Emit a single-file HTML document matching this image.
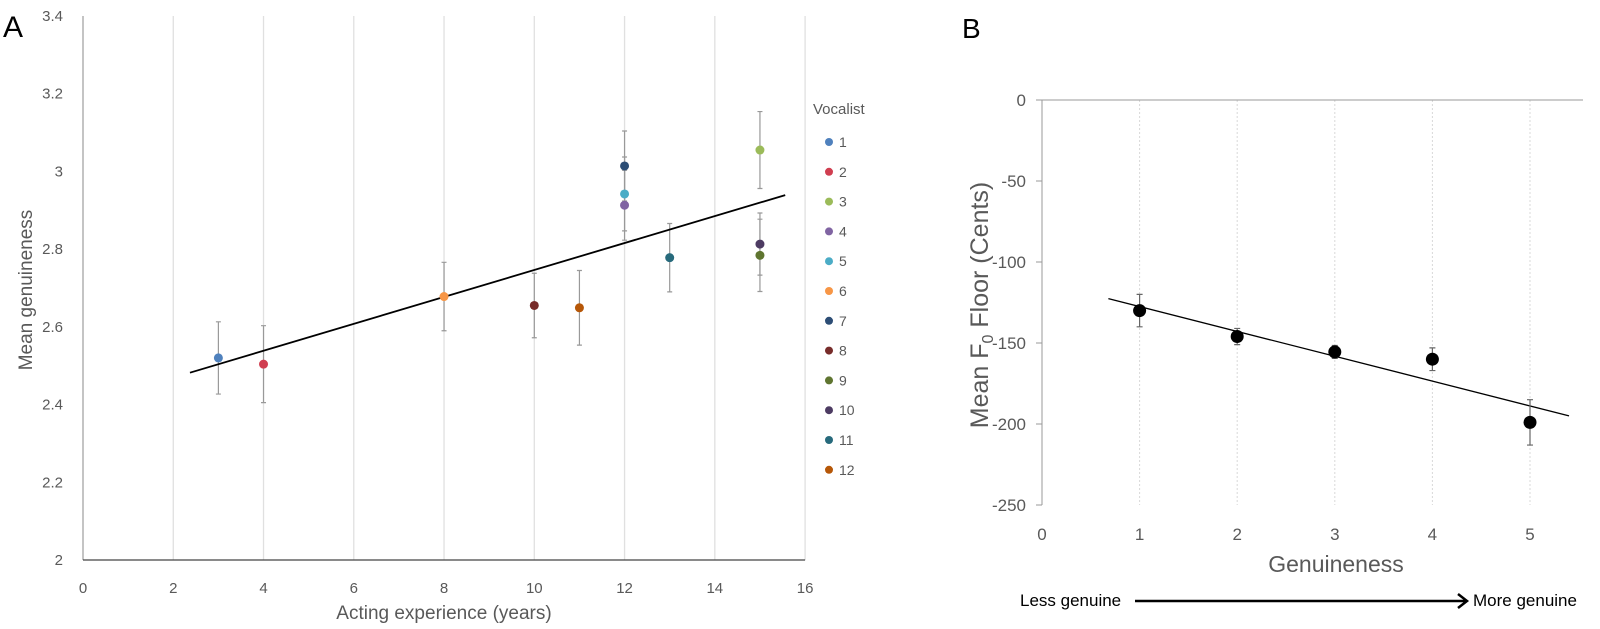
<!DOCTYPE html>
<html><head><meta charset="utf-8"><style>
body{margin:0;background:#fff;}
svg{display:block;font-family:"Liberation Sans",sans-serif;}
</style></head><body>
<svg id="fig" width="1600" height="629" viewBox="0 0 1600 629">
<g id="chartA"></g>
<g id="chartB"></g>
</svg>
<script>
// Panel A data
const vocalists = ["1","2","3","4","5","6","7","8","9","10","11","12"];
const experience = [3,4,15,12,12,8,12,10,15,15,13,11];
const genuineness = [2.52,2.504,3.055,2.913,2.942,2.678,3.014,2.655,2.784,2.813,2.778,2.649];
const genErr = [0.093,0.099,0.099,0.09,0.095,0.088,0.09,0.083,0.093,0.08,0.088,0.096];
const vocColors = ["#4f81bd","#d03e50","#9bbb59","#8064a2","#4bacc6","#f79646","#2c4d75","#772c2a","#5f7530","#4d3b62","#276a7c","#b65708"];
const aXTicks = [0,2,4,6,8,10,12,14,16];
const aYTicks = [2,2.2,2.4,2.6,2.8,3,3.2,3.4];
const aTrendX = [2.37,15.56];
const aTrendY = [2.482,2.939];
// Panel B data
const bCategories = [1,2,3,4,5];
const bMeans = [-130,-146,-155.5,-160,-199];
const bErr = [10,5,4,7,14];
const bXTicks = [0,1,2,3,4,5];
const bYTicks = [0,-50,-100,-150,-200,-250];
const bTrendX = [0.68,5.4];
const bTrendY = [-122.6,-195];

const NS="http://www.w3.org/2000/svg";
function mk(parent,tag,attrs,text){const e=document.createElementNS(NS,tag);for(const k in attrs)e.setAttribute(k,attrs[k]);if(text!==undefined)e.textContent=text;parent.appendChild(e);return e;}

// ---- Panel A ----
const A=document.getElementById('chartA');
const ax=v=>83+v*45.13, ay=v=>560-(v-2)*388.6;
let e;
e=mk(A,'text',{x:3,y:37,'font-size':30,fill:'#000'},'A');


aXTicks.forEach(t=>{
  if(t>0){e=mk(A,'line',{x1:ax(t),x2:ax(t),y1:16,y2:560,stroke:'#e0e0e0','stroke-width':1.3});
  
  }
  e=mk(A,'text',{x:ax(t),y:593,'text-anchor':'middle','font-size':15,fill:'#595959'},String(t));
  
  
});
aYTicks.forEach(t=>{
  e=mk(A,'text',{x:63,y:ay(t)+5,'text-anchor':'end','font-size':15,fill:'#595959'},String(Math.round(t*10)/10));
  
  
});
e=mk(A,'line',{x1:83,x2:83,y1:16,y2:560,stroke:'#888','stroke-width':1});


e=mk(A,'line',{x1:83,x2:ax(16),y1:560,y2:560,stroke:'#444','stroke-width':1.3});


e=mk(A,'text',{x:444,y:619,'text-anchor':'middle','font-size':19,fill:'#595959'},'Acting experience (years)');


e=mk(A,'text',{x:0,y:0,'text-anchor':'middle','font-size':19,fill:'#595959',transform:'translate(32,290) rotate(-90)'},'Mean genuineness');


vocalists.forEach((v,i)=>{
  const x=ax(experience[i]),t=ay(genuineness[i]+genErr[i]),b=ay(genuineness[i]-genErr[i]);
  e=mk(A,'path',{d:`M${x},${t}V${b}M${x-2.5},${t}H${x+2.5}M${x-2.5},${b}H${x+2.5}`,stroke:'#999','stroke-width':1.2,fill:'none'});
  
  
});
e=mk(A,'line',{x1:ax(aTrendX[0]),y1:ay(aTrendY[0]),x2:ax(aTrendX[1]),y2:ay(aTrendY[1]),stroke:'#000','stroke-width':1.8});


vocalists.forEach((v,i)=>{
  e=mk(A,'circle',{cx:ax(experience[i]),cy:ay(genuineness[i]),r:4.5,fill:vocColors[i]});
  
  
});
e=mk(A,'text',{x:813,y:114,'font-size':15,fill:'#595959'},'Vocalist');


vocalists.forEach((v,i)=>{
  const y=142+29.8*i;
  const g=mk(A,'g',{});
  
  
  mk(g,'circle',{cx:829,cy:y,r:4,fill:vocColors[i]});
  mk(g,'text',{x:839,y:y+5,'font-size':14,fill:'#595959'},v);
});

// ---- Panel B ----
const B=document.getElementById('chartB');
const bx=v=>1042+v*97.6, by=v=>100-v*1.62;
e=mk(B,'text',{x:962,y:38,'font-size':28,fill:'#000'},'B');


bXTicks.forEach(t=>{
  if(t>0){e=mk(B,'line',{x1:bx(t),x2:bx(t),y1:by(0),y2:by(-250),stroke:'#d8d8d8','stroke-width':1,'stroke-dasharray':'2,2'});
  
  }
  e=mk(B,'text',{x:bx(t),y:540,'text-anchor':'middle','font-size':17,fill:'#595959'},String(t));
  
  
});
bYTicks.forEach(t=>{
  e=mk(B,'text',{x:1026,y:by(t)+6,'text-anchor':'end','font-size':17,fill:'#595959'},String(t));
  
  
  e=mk(B,'line',{x1:1036,x2:1042,y1:by(t),y2:by(t),stroke:'#999','stroke-width':1});
  
  
});
e=mk(B,'line',{x1:1042,x2:1583,y1:by(0),y2:by(0),stroke:'#999','stroke-width':1});


e=mk(B,'line',{x1:1042,x2:1042,y1:by(0),y2:by(-250),stroke:'#999','stroke-width':1});


e=mk(B,'text',{x:1336,y:572,'text-anchor':'middle','font-size':23,fill:'#595959'},'Genuineness');


const yt=mk(B,'text',{x:0,y:0,'text-anchor':'middle','font-size':25,fill:'#595959',transform:'translate(988,305) rotate(-90)'});


mk(yt,'tspan',{},'Mean F');
mk(yt,'tspan',{'font-size':16,dy:5},'0');
mk(yt,'tspan',{dy:-5},' Floor (Cents)');
e=mk(B,'line',{x1:bx(bTrendX[0]),y1:by(bTrendY[0]),x2:bx(bTrendX[1]),y2:by(bTrendY[1]),stroke:'#000','stroke-width':1.3});


bCategories.forEach((c,i)=>{
  const x=bx(c),t=by(bMeans[i]+bErr[i]),b=by(bMeans[i]-bErr[i]);
  e=mk(B,'path',{d:`M${x},${t}V${b}M${x-3},${t}H${x+3}M${x-3},${b}H${x+3}`,stroke:'#666','stroke-width':1.2,fill:'none'});
  
  
  e=mk(B,'circle',{cx:x,cy:by(bMeans[i]),r:6.5,fill:'#000'});
  
  
});
e=mk(B,'text',{x:1020,y:606,'font-size':17,fill:'#000'},'Less genuine');


e=mk(B,'path',{d:'M1135,601H1466M1458,594L1467,601L1458,608',stroke:'#000','stroke-width':2.5,fill:'none'});


e=mk(B,'text',{x:1473,y:606,'font-size':17,fill:'#000'},'More genuine');


</script>
</body></html>
